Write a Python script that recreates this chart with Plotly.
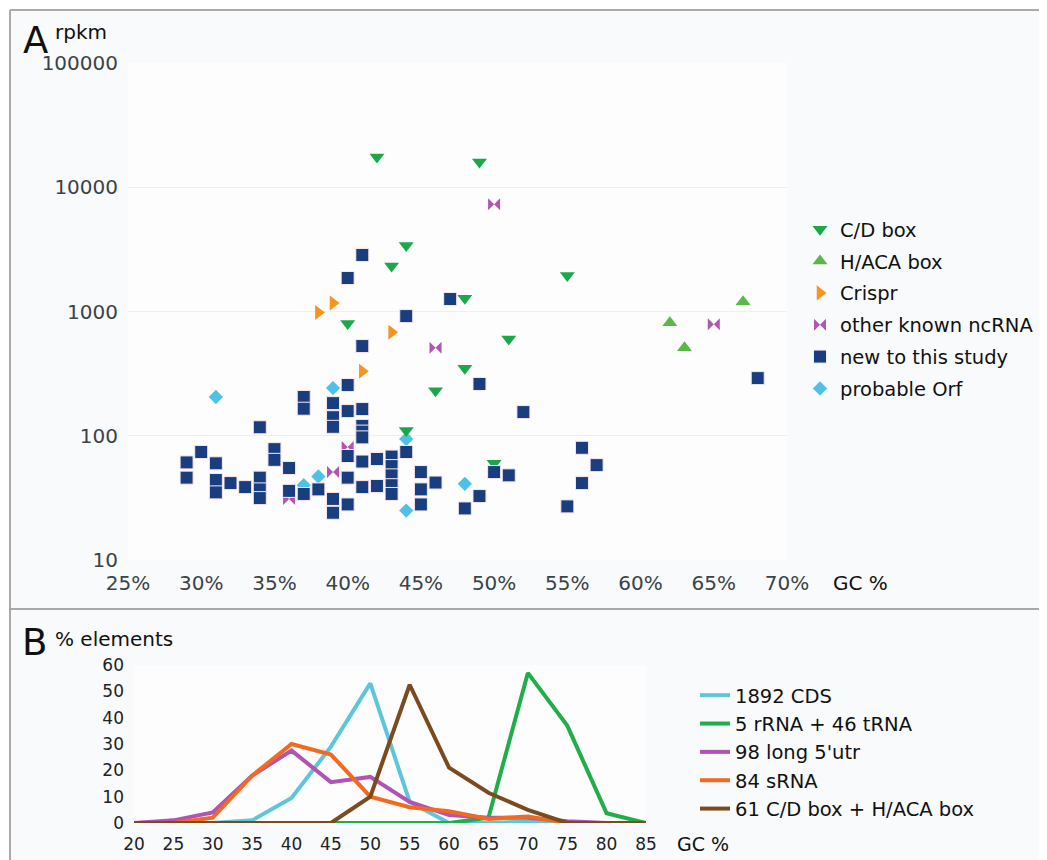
import plotly.graph_objects as go

W, H = 1070, 870   # figure a bit larger than the window; only the visible part matters
OX, OY = 8, 8      # page body margin offset of the figure in the window

# ---------------- Panel A data (GC %, rpkm) ----------------
cd_gc = [42, 49, 44, 43, 55, 48, 40, 51, 48, 46, 44, 50]
cd_rpkm = [17500, 16000, 3400, 2320, 1950, 1280, 800, 600, 350, 230, 110, 60]

haca_gc = [67, 62, 63]
haca_rpkm = [1200, 810, 510]

crispr_gc = [38, 39, 43, 41]
crispr_rpkm = [980, 1170, 680, 330]

other_gc = [50, 46, 65, 40, 39, 36]
other_rpkm = [7300, 510, 790, 81, 51, 31]

new_gc = [41, 41, 41, 41, 41, 41, 41, 41,
          40, 40, 40, 40, 40, 40,
          47, 44, 44, 49, 49, 52,
          37, 37, 37, 39, 39, 39, 39, 39,
          34, 34, 34, 34, 35, 35, 36, 36,
          30, 29, 29, 31, 31, 31, 32, 33, 38,
          42, 42, 43, 43, 43, 43, 43,
          45, 45, 45, 46, 48, 50, 51, 55, 56, 56, 57, 68]
new_rpkm = [2850, 527, 164, 120, 108, 97, 62, 38.6,
            1860, 256, 158, 68.7, 46, 28,
            1260, 918, 74, 261, 32.7, 155,
            205, 165, 34, 183, 141, 118, 31, 24,
            117, 46, 37, 31.5, 78, 64, 55, 36,
            74, 61, 46, 60, 44, 35, 41.6, 38.6, 37,
            65, 39.4, 68, 57, 48, 40, 34,
            51, 37, 28, 42, 26, 51, 48, 27, 80, 41.6, 58, 291]

orf_gc = [31, 39, 44, 37, 38, 48, 44]
orf_rpkm = [205, 242, 94, 40, 47, 41, 25]

a_xticks = [25, 30, 35, 40, 45, 50, 55, 60, 65, 70]
a_xticktext = ["25%", "30%", "35%", "40%", "45%", "50%", "55%", "60%", "65%", "70%"]
a_yticks = [10, 100, 1000, 10000, 100000]
a_yticktext = ["10", "100", "1000", "10000", "100000"]

# ---------------- Panel B data (% elements by GC bin) ----------------
gc_bins = [20, 25, 30, 35, 40, 45, 50, 55, 60, 65, 70, 75, 80, 85]
cds = [0, 0, 0, 1, 9.5, 29, 53, 8, 0, 0, 0.5, 0, 0, 0]
rrna_trna = [0, 0, 0, 0, 0, 0, 0, 0, 0, 2, 57, 37, 3.7, 0]
long_utr = [0, 1, 4, 18, 27.5, 15.5, 17.5, 8, 3, 2, 2, 0.7, 0, 0]
srna = [0, 0, 2, 18, 30, 26, 10, 6, 4.5, 1.5, 2.5, 0, 0, 0]
cd_haca = [0, 0, 0, 0, 0, 0, 10, 52.5, 21, 11.5, 5, 0, 0, 0]
b_series_names = ["1892 CDS", "5 rRNA + 46 tRNA", "98 long 5'utr", "84 sRNA",
                  "61 C/D box + H/ACA box"]

FONT = "DejaVu Sans"
TICKC = "#3a4347"

fig = go.Figure()

def sc(x, y, name, symbol, color, size, grp, lw=0, lc="rgba(0,0,0,0)"):
    fig.add_trace(go.Scatter(
        x=x, y=y, mode="markers", name=name, legendgroup=grp,
        marker=dict(symbol=symbol, color=color, size=size,
                    line=dict(width=lw, color=lc)),
        xaxis="x", yaxis="y", legend="legend"))

sc(orf_gc, orf_rpkm, "probable Orf", "diamond", "#4fc0e8", 11, "g6")
sc(cd_gc, cd_rpkm, "C/D box", "triangle-down", "#1aa84a", 13, "g1")
sc(haca_gc, haca_rpkm, "H/ACA box", "triangle-up", "#58b947", 13, "g2")
sc(crispr_gc, crispr_rpkm, "Crispr", "triangle-right", "#f7941e", 13, "g3")
sc(other_gc, other_rpkm, "other known ncRNA", "bowtie", "#b553b0", 12, "g4")
sc(new_gc, new_rpkm, "new to this study", "square", "#183e80", 13, "g5",
   lw=1, lc="#fbe6ec")

# legend order
for tr, rank in zip(fig.data, [6, 1, 2, 3, 4, 5]):
    tr.legendrank = rank

b_colors = ["#5ec6da", "#1fae49", "#b153b5", "#f26a21", "#7a4b1e"]
for name, vals, col, i in zip(b_series_names, [cds, rrna_trna, long_utr, srna, cd_haca],
                              b_colors, range(5)):
    fig.add_trace(go.Scatter(
        x=gc_bins, y=vals, mode="lines", name=name, legendgroup="b%d" % i,
        line=dict(color=col, width=4), xaxis="x2", yaxis="y2", legend="legend2"))

def px_x(p):
    return (p - OX) / W

def px_y(p):
    return 1 - (p - OY) / H

shapes = [
    dict(type="rect", xref="paper", yref="paper", x0=0, x1=1, y0=px_y(10), y1=1,
         fillcolor="white", line=dict(width=0), layer="below"),
    dict(type="rect", xref="paper", yref="paper", x0=0, x1=px_x(10), y0=0, y1=1,
         fillcolor="white", line=dict(width=0), layer="below"),
    dict(type="line", xref="paper", yref="paper", x0=px_x(10), x1=1, y0=px_y(10), y1=px_y(10),
         line=dict(color="#a9a9a9", width=2)),
    dict(type="line", xref="paper", yref="paper", x0=px_x(10), x1=px_x(10), y0=0, y1=px_y(10),
         line=dict(color="#a9a9a9", width=2)),
    dict(type="line", xref="paper", yref="paper", x0=px_x(10), x1=1, y0=px_y(609), y1=px_y(609),
         line=dict(color="#a9a9a9", width=2)),
]

def ann(text, xpix, ypix, size, xanchor="left", color="#111111"):
    return dict(text=text, x=px_x(xpix), y=px_y(ypix), xref="paper", yref="paper",
                xanchor=xanchor, yanchor="middle", showarrow=False,
                font=dict(family=FONT, size=size, color=color))

annotations = [
    ann("A", 21, 40, 37),
    ann("rpkm", 53, 32, 20),
    ann("GC %", 831, 583, 20),
    ann("B", 20, 642, 37),
    ann("% elements", 53, 639, 20),
    ann("GC %", 675, 844, 19),
]

fig.update_layout(
    width=W, height=H,
    margin=dict(l=0, r=0, t=0, b=0, pad=0, autoexpand=False),
    paper_bgcolor="#f9fafc",
    plot_bgcolor="#fdfdfe",
    font=dict(family=FONT, color=TICKC),
    showlegend=True,
    shapes=shapes,
    annotations=annotations,
    xaxis=dict(domain=[px_x(128), px_x(787)], range=[25, 70], tickvals=a_xticks,
               ticktext=a_xticktext, showgrid=False, zeroline=False, showline=False,
               tickfont=dict(size=20, color=TICKC), ticks="", ticklabelstandoff=9,
               anchor="y", automargin=False),
    yaxis=dict(domain=[px_y(560), px_y(63)], type="log", range=[1, 5], tickvals=a_yticks,
               ticktext=a_yticktext, showgrid=True, gridcolor="#ebf1ec", gridwidth=1,
               zeroline=False, showline=False, tickfont=dict(size=20, color=TICKC),
               ticks="", ticklabelstandoff=9, anchor="x", automargin=False),
    xaxis2=dict(domain=[px_x(134), px_x(646)], range=[20, 85], tickvals=gc_bins,
                showgrid=False, zeroline=False, showline=False,
                tickfont=dict(size=17, color="#222222"), ticks="", ticklabelstandoff=9,
                anchor="y2", automargin=False),
    yaxis2=dict(domain=[px_y(823), px_y(665)], range=[0, 60], tickvals=[0, 10, 20, 30, 40, 50, 60],
                showgrid=False, zeroline=False, showline=False,
                tickfont=dict(size=17, color="#222222"), ticks="", ticklabelstandoff=9,
                anchor="x2", automargin=False),
    legend=dict(x=px_x(800), y=px_y(210), xanchor="left", yanchor="top",
                bgcolor="rgba(0,0,0,0)", font=dict(family=FONT, size=19.5, color="#111111"),
                traceorder="grouped", tracegroupgap=3.5, itemsizing="trace"),
    legend2=dict(x=px_x(695), y=px_y(676), xanchor="left", yanchor="top",
                 bgcolor="rgba(0,0,0,0)", font=dict(family=FONT, size=19.5, color="#111111"),
                 traceorder="grouped", tracegroupgap=0),
)

fig.write_html("out.html")
